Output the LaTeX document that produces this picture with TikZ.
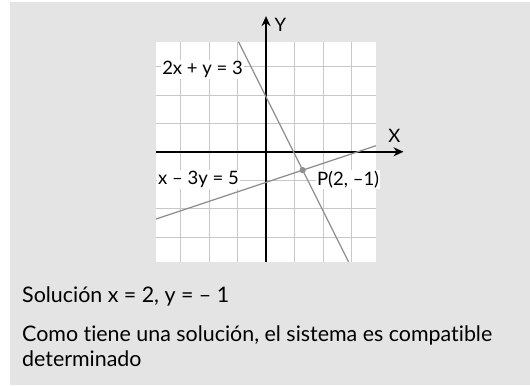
\documentclass[tikz,border=0pt]{standalone}
\usepackage{fontspec}
\setmainfont{Lato}[Ligatures=NoCommon]
\usetikzlibrary{arrows.meta}

\definecolor{fondo}{HTML}{E4E4E4}
\definecolor{rejilla}{HTML}{C8C8C8}
\definecolor{linea}{HTML}{8E8E8E}

\tikzset{cuadricula/.style = {draw=rejilla, line width=0.6pt},
         eje/.style = {line width=1.6pt, -{Stealth[length=10pt, width=9pt]}},
         recta/.style = {draw=linea, line width=1.3pt},
         ecuacion/.style = {fill=white, inner sep=1pt, font=\fontsize{18.5}{18.5}\selectfont},
         texto/.style = {anchor=base west, inner sep=0pt, font=\fontsize{21.4}{25}\selectfont}
        }

\begin{document}
\begin{tikzpicture}[x=18.33pt, y=18.33pt]
  % fondo y marco de la figura
  \useasboundingbox (-14.51, -12.73) rectangle (14.40, 8.28);
  \fill[fondo] (-13.96, -12.73) rectangle (14.40, 8.17);

  % cuadricula
  \fill[white] (-6, -6) rectangle (6, 6);
  \draw[cuadricula] (-6, -6) grid (6, 6);

  % ejes
  \draw[eje] (0, -6) -- (0, 7.4);
  \draw[eje] (-6, 0) -- (7.5, 0);
  \node[font=\fontsize{18.5}{18.5}\selectfont] (ejeY) at (0.78, 6.95) {Y};
  \node[font=\fontsize{18.5}{18.5}\selectfont] (ejeX) at (7.0, 0.85) {X};

  % rectas
  \coordinate (a1) at (-1.5, 6);
  \coordinate (a2) at (4.5, -6);
  \coordinate (b1) at (-6, -3.667);
  \coordinate (b2) at (6, 0.333);
  \draw[recta] (a1) -- (a2);
  \draw[recta] (b1) -- (b2);

  \node[ecuacion] (r1) at (-3.46, 4.5) {2x + y = 3};
  \node[ecuacion, anchor=west] (r2) at (-5.95, -1.5) {x – 3y = 5};

  % punto de corte
  \fill[linea] (2, -1) circle (0.17);
  \node[ecuacion, anchor=west] (P) at (2.72, -1.5) {P(2, –1)};

  % texto
  \node[texto] (sol) at (-13.31, -8.24) {Solución x = 2, y = – 1};
  \node[texto] (com1) at (-13.31, -10.33) {Como tiene una solución, el sistema es compatible};
  \node[texto] (com2) at (-13.31, -11.72) {determinado};
\end{tikzpicture}
\end{document}
